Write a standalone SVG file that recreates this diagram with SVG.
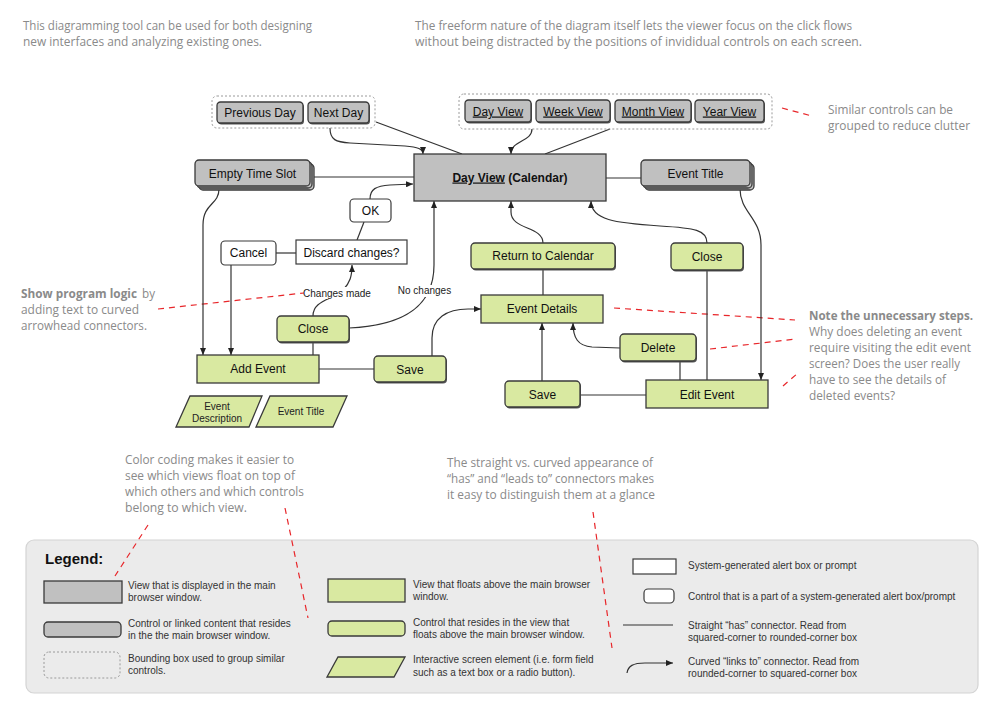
<svg xmlns="http://www.w3.org/2000/svg" width="1000" height="718" viewBox="0 0 1000 718">
<style>
.note{font-family:"Open Sans","Noto Sans",sans-serif;font-size:12.5px;fill:#8a8a8a}
.b{font-weight:bold}
.t{font-family:"Liberation Sans",Arial,sans-serif;font-size:12px;fill:#111;text-anchor:middle}
.s{font-family:"Liberation Sans",Arial,sans-serif;font-size:10px;fill:#333}
.sm{font-family:"Liberation Sans",Arial,sans-serif;font-size:10px;fill:#222;text-anchor:middle}
.gray{fill:#c0c0c0;stroke:#3a3a3a;stroke-width:1.3}
.green{fill:#d9e9a1;stroke:#3a3a3a;stroke-width:1.3}
.white{fill:#fff;stroke:#3a3a3a;stroke-width:1.2}
.sh{fill:#555;stroke:none}
.bound{fill:none;stroke:#9a9a9a;stroke-width:1;stroke-dasharray:2,2}
.c{fill:none;stroke:#333;stroke-width:1.2}
.a{marker-end:url(#arr)}
.red{fill:none;stroke:#e8262a;stroke-width:1.2;stroke-dasharray:6,5}
.u{text-decoration:underline}
</style>
<defs>
<marker id="arr" markerUnits="userSpaceOnUse" markerWidth="7" markerHeight="6" refX="7" refY="3" orient="auto">
<path d="M0,0 L7,3 L0,6 z" fill="#222"/>
</marker>
</defs>
<rect width="1000" height="718" fill="#fff"/>

<!-- annotations -->
<g id="notes">
<text class="note" x="23" y="30" textLength="289" lengthAdjust="spacingAndGlyphs">This diagramming tool can be used for both designing</text>
<text class="note" x="23" y="46" textLength="239" lengthAdjust="spacingAndGlyphs">new interfaces and analyzing existing ones.</text>
<text class="note" x="415" y="30" textLength="437" lengthAdjust="spacingAndGlyphs">The freeform nature of the diagram itself lets the viewer focus on the click flows</text>
<text class="note" x="415" y="46" textLength="447" lengthAdjust="spacingAndGlyphs">without being distracted by the positions of invididual controls on each screen.</text>
<text class="note" x="828" y="114" textLength="125" lengthAdjust="spacingAndGlyphs">Similar controls can be</text>
<text class="note" x="828" y="130" textLength="142" lengthAdjust="spacingAndGlyphs">grouped to reduce clutter</text>
<text class="note b" x="21" y="298" textLength="116" lengthAdjust="spacingAndGlyphs">Show program logic</text>
<text class="note" x="142" y="298" textLength="13" lengthAdjust="spacingAndGlyphs">by</text>
<text class="note" x="21" y="314" textLength="118" lengthAdjust="spacingAndGlyphs">adding text to curved</text>
<text class="note" x="21" y="330" textLength="126" lengthAdjust="spacingAndGlyphs">arrowhead connectors.</text>
<text class="note b" x="809" y="320" textLength="164" lengthAdjust="spacingAndGlyphs">Note the unnecessary steps.</text>
<text class="note" x="809" y="336" textLength="153" lengthAdjust="spacingAndGlyphs">Why does deleting an event</text>
<text class="note" x="809" y="352" textLength="162" lengthAdjust="spacingAndGlyphs">require visiting the edit event</text>
<text class="note" x="809" y="368" textLength="151" lengthAdjust="spacingAndGlyphs">screen? Does the user really</text>
<text class="note" x="809" y="384" textLength="137" lengthAdjust="spacingAndGlyphs">have to see the details of</text>
<text class="note" x="809" y="400" textLength="86" lengthAdjust="spacingAndGlyphs">deleted events?</text>
<text class="note" x="125" y="464" textLength="169" lengthAdjust="spacingAndGlyphs">Color coding makes it easier to</text>
<text class="note" x="125" y="480" textLength="170" lengthAdjust="spacingAndGlyphs">see which views float on top of</text>
<text class="note" x="125" y="496" textLength="179" lengthAdjust="spacingAndGlyphs">which others and which controls</text>
<text class="note" x="125" y="512" textLength="122" lengthAdjust="spacingAndGlyphs">belong to which view.</text>
<text class="note" x="447" y="467" textLength="206" lengthAdjust="spacingAndGlyphs">The straight vs. curved appearance of</text>
<text class="note" x="447" y="483" textLength="207" lengthAdjust="spacingAndGlyphs">“has” and “leads to” connectors makes</text>
<text class="note" x="447" y="499" textLength="208" lengthAdjust="spacingAndGlyphs">it easy to distinguish them at a glance</text>
</g>

<!-- legend panel -->
<g id="legend">
<rect x="26" y="540" width="952" height="153" rx="8" fill="#ebebeb" stroke="#d4d4d4" stroke-width="1.2"/>
<text x="45" y="564" font-family="Liberation Sans,Arial,sans-serif" font-size="15" font-weight="bold" fill="#111">Legend:</text>
<rect class="gray" x="44" y="581" width="78" height="22" stroke-width="1.6"/>
<text class="s" x="128" y="589">View that is displayed in the main</text>
<text class="s" x="128" y="601">browser window.</text>
<rect class="gray" x="44" y="622" width="77" height="15" rx="4"/>
<text class="s" x="128" y="627">Control or linked content that resides</text>
<text class="s" x="128" y="639">in the the main browser window.</text>
<rect class="bound" x="44" y="652" width="76" height="26" rx="5"/>
<text class="s" x="128" y="662">Bounding box used to group similar</text>
<text class="s" x="128" y="674">controls.</text>
<rect class="green" x="328" y="579" width="77" height="23"/>
<text class="s" x="413" y="588">View that floats above the main browser</text>
<text class="s" x="413" y="600">window.</text>
<rect class="green" x="328" y="621" width="77" height="15" rx="4"/>
<text class="s" x="413" y="626">Control that resides in the view that</text>
<text class="s" x="413" y="638">floats above the main browser window.</text>
<polygon class="green" points="338,657 405,657 394,677 327,677"/>
<text class="s" x="413" y="663">Interactive screen element (i.e. form field</text>
<text class="s" x="413" y="676">such as a text box or a radio button).</text>
<rect class="white" x="633" y="559" width="43" height="15"/>
<text class="s" x="688" y="569">System-generated alert box or prompt</text>
<rect class="white" x="644" y="589" width="30" height="14" rx="4"/>
<text class="s" x="688" y="600">Control that is a part of a system-generated alert box/prompt</text>
<path class="c" d="M623,625 L673,625"/>
<text class="s" x="688" y="629">Straight “has” connector.  Read from</text>
<text class="s" x="688" y="641">squared-corner to rounded-corner box</text>
<path class="c a" d="M627,673 C628,666 633,663 645,663 L673,663"/>
<text class="s" x="688" y="665">Curved “links to” connector.  Read from</text>
<text class="s" x="688" y="677">rounded-corner to squared-corner box</text>
</g>

<!-- red dashed annotation leaders -->
<g id="leaders">
<path class="red" d="M782,108 L812,116"/>
<path class="red" d="M158,309 L304,293"/>
<path class="red" d="M614,308 L795,320"/>
<path class="red" d="M710,349 L796,339"/>
<path class="red" d="M783,386 L798,373"/>
<path class="red" d="M148,525 L115,576"/>
<path class="red" d="M285,508 L308,618"/>
<path class="red" d="M593,512 L612,648"/>
</g>

<!-- connectors -->
<g id="connectors">
<path class="c a" d="M330,128 C330,140 336,142 350,143 L405,146 C418,147 423,149 423,154"/>
<path class="c" d="M376,122 L462,154"/>
<path class="c a" d="M532,129 C532,142 511,140 511,154"/>
<path class="c" d="M610,129 L545,154"/>
<path class="c" d="M310,177 L414,177"/>
<path class="c" d="M606,178 L641,178"/>
<path class="c a" d="M219,189 C219,205 203,203 203,225 L203,355"/>
<path class="c a" d="M231,265 L231,355"/>
<path class="c" d="M276,253 L296,253"/>
<path class="c" d="M357,240 L364,222"/>
<path class="c a" d="M370,199 C370,189 376,186 390,185 L413,184"/>
<path class="c a" d="M313,316 C313,300 333,300 343,290 C350,283 352,276 352,265"/>
<path class="c a" d="M349,328 C395,326 434,312 434,265 L434,201"/>
<path class="c" d="M313,342 L313,355"/>
<path class="c" d="M319,369 L374,369"/>
<path class="c a" d="M432,356 L432,338 C432,318 447,309 468,309 L481,309"/>
<path class="c" d="M543,295 L543,269"/>
<path class="c a" d="M543,243 C543,226 511,230 511,212 L511,201"/>
<path class="c a" d="M707,243 C707,230 695,228 660,226 C615,223 591,220 591,201"/>
<path class="c" d="M707,270 L707,380"/>
<path class="c a" d="M740,189 C740,212 761,218 761,245 L761,380"/>
<path class="c" d="M680,361 L680,380"/>
<path class="c a" d="M620,348 L592,347 C578,346 573,338 573,323"/>
<path class="c a" d="M542,381 L542,323"/>
<path class="c" d="M580,395 L646,395"/>
<rect x="304" y="287" width="66" height="12" fill="#fff"/>
<text class="sm" x="337" y="296.5" fill="#333">Changes made</text>
<rect x="397" y="285" width="55" height="12" fill="#fff"/>
<text class="sm" x="424.5" y="294" fill="#333">No changes</text>
</g>

<!-- nodes -->
<g id="group-day-nav">
<rect class="bound" x="212" y="96" width="163" height="32" rx="5"/>
</g>
<g id="btn-prev-day">
<rect class="sh" x="218" y="103.5" width="86" height="21" rx="3.5"/>
<rect class="gray" x="217" y="102" width="86" height="21" rx="3.5"/>
<text class="t" x="260" y="116.5">Previous Day</text>
</g>
<g id="btn-next-day">
<rect class="sh" x="309" y="103.5" width="61" height="21" rx="3.5"/>
<rect class="gray" x="308" y="102" width="61" height="21" rx="3.5"/>
<text class="t" x="338.5" y="116.5">Next Day</text>
</g>
<g id="group-views">
<rect class="bound" x="459" y="94" width="313" height="35" rx="5"/>
</g>
<g id="btn-day-view">
<rect class="sh" x="466" y="101.5" width="66" height="22" rx="3.5"/>
<rect class="gray" x="465" y="100" width="66" height="22" rx="3.5"/>
<text class="t u" x="498" y="115.5">Day View</text>
</g>
<g id="btn-week-view">
<rect class="sh" x="537" y="101.5" width="74" height="22" rx="3.5"/>
<rect class="gray" x="536" y="100" width="74" height="22" rx="3.5"/>
<text class="t u" x="573" y="115.5">Week View</text>
</g>
<g id="btn-month-view">
<rect class="sh" x="616" y="101.5" width="76" height="22" rx="3.5"/>
<rect class="gray" x="615" y="100" width="76" height="22" rx="3.5"/>
<text class="t u" x="653" y="115.5">Month View</text>
</g>
<g id="btn-year-view">
<rect class="sh" x="696" y="101.5" width="69" height="22" rx="3.5"/>
<rect class="gray" x="695" y="100" width="69" height="22" rx="3.5"/>
<text class="t u" x="729.5" y="115.5">Year View</text>
</g>
<g id="day-view-calendar">
<rect class="gray" x="414" y="154" width="192" height="47" stroke-width="1.6"/>
<text class="t" x="510" y="181.5" font-weight="bold"><tspan class="u">Day View</tspan> (Calendar)</text>
</g>
<g id="empty-time-slot">
<rect class="gray" x="199" y="164" width="115" height="26" rx="4"/>
<rect class="gray" x="197" y="162" width="115" height="26" rx="4"/>
<rect class="gray" x="195" y="160" width="115" height="26" rx="4"/>
<text class="t" x="252.5" y="177.5">Empty Time Slot</text>
</g>
<g id="event-title-top">
<rect class="gray" x="645" y="164" width="109" height="26" rx="4"/>
<rect class="gray" x="643" y="162" width="109" height="26" rx="4"/>
<rect class="gray" x="641" y="160" width="109" height="26" rx="4"/>
<text class="t" x="695.5" y="177.5">Event Title</text>
</g>
<g id="ok">
<rect class="white" x="350" y="199" width="41" height="23" rx="4"/>
<text class="t" x="370.5" y="215">OK</text>
</g>
<g id="cancel">
<rect class="white" x="221" y="241" width="55" height="24" rx="4"/>
<text class="t" x="248.5" y="257">Cancel</text>
</g>
<g id="discard-changes">
<rect class="white" x="296" y="240" width="111" height="24"/>
<text class="t" x="351.5" y="256.5" font-size="13">Discard changes?</text>
</g>
<g id="close-add">
<rect class="sh" x="278" y="317.5" width="72" height="26" rx="4"/>
<rect class="green" x="277" y="316" width="72" height="26" rx="4"/>
<text class="t" x="313" y="333">Close</text>
</g>
<g id="add-event">
<rect class="green" x="197" y="355" width="122" height="28" stroke-width="1.5"/>
<text class="t" x="258" y="373">Add Event</text>
</g>
<g id="save-add">
<rect class="sh" x="375" y="357.5" width="72" height="26" rx="4"/>
<rect class="green" x="374" y="356" width="72" height="26" rx="4"/>
<text class="t" x="410" y="373.5">Save</text>
</g>
<g id="event-description">
<polygon class="green" points="190,396 262,396 249,427 176,427"/>
<text class="sm" x="217" y="409.5">Event</text>
<text class="sm" x="217" y="421.5">Description</text>
</g>
<g id="event-title-field">
<polygon class="green" points="270,396 347,396 333,427 256,427"/>
<text class="sm" x="301" y="414.5">Event Title</text>
</g>
<g id="return-to-calendar">
<rect class="sh" x="472" y="244.5" width="144" height="26" rx="4"/>
<rect class="green" x="471" y="243" width="144" height="26" rx="4"/>
<text class="t" x="543" y="260">Return to Calendar</text>
</g>
<g id="event-details">
<rect class="green" x="481" y="295" width="122" height="28" stroke-width="1.5"/>
<text class="t" x="542" y="313">Event Details</text>
</g>
<g id="save-edit">
<rect class="sh" x="506" y="382.5" width="75" height="26" rx="4"/>
<rect class="green" x="505" y="381" width="75" height="26" rx="4"/>
<text class="t" x="542.5" y="398.5">Save</text>
</g>
<g id="close-details">
<rect class="sh" x="672" y="244.5" width="72" height="27" rx="4"/>
<rect class="green" x="671" y="243" width="72" height="27" rx="4"/>
<text class="t" x="707" y="260.5">Close</text>
</g>
<g id="delete">
<rect class="sh" x="621" y="335.5" width="76" height="27" rx="4"/>
<rect class="green" x="620" y="334" width="76" height="27" rx="4"/>
<text class="t" x="658" y="352">Delete</text>
</g>
<g id="edit-event">
<rect class="green" x="646" y="380" width="122" height="28" stroke-width="1.5"/>
<text class="t" x="707" y="398.5">Edit Event</text>
</g>
</svg>
